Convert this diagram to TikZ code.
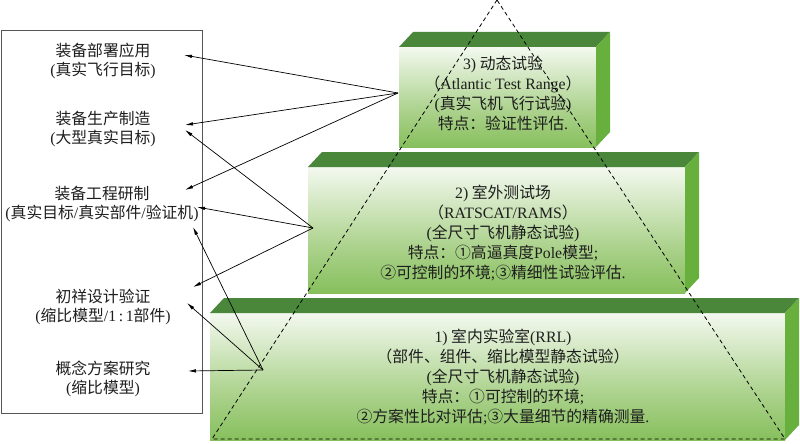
\documentclass[tikz,border=0pt]{standalone}
\usepackage{fontspec}
\setmainfont{Noto Sans CJK SC}
\newfontfamily\tms{Liberation Serif}
\newcommand\tm[1]{{\tms #1}}
\usetikzlibrary{arrows.meta}
\definecolor{frontg}{RGB}{108,178,58}
\definecolor{midg}{RGB}{175,212,145}
\definecolor{topg}{RGB}{74,135,58}
\definecolor{sideg}{RGB}{104,176,62}
\definecolor{boxgray}{RGB}{85,85,85}
\definecolor{txt}{RGB}{30,30,30}
\pgfdeclareverticalshading{boxshade}{100bp}{color(0bp)=(frontg); color(12bp)=(frontg); color(45bp)=(midg); color(80bp)=(white); color(100bp)=(white)}
\newcommand\greenbox[4]{%
  \shade[shading=boxshade] (#1,#2) rectangle (#3,#4);
  \fill[topg] (#1,#2) -- ({#1+14},{#2-15}) -- ({#3+14},{#2-15}) -- (#3,#2) -- cycle;
  \fill[sideg] (#3,#2) -- ({#3+14},{#2-15}) -- ({#3+14},{#4-15}) -- (#3,#4) -- cycle;
}
\begin{document}
\begin{tikzpicture}[x=1pt,y=-1pt,
  boxtxt/.style={align=center, inner sep=0pt, text=txt, font=\fontsize{15.8}{20}\selectfont},
  lefttxt/.style={align=center, inner sep=0pt, text=txt, font=\fontsize{15.8}{19}\selectfont},
  arr/.style={-{Latex[length=8pt,width=3.5pt]}, line width=0.7pt, black},
  tri/.style={dashed, dash pattern=on 4pt off 3pt, line width=0.8pt}]
\useasboundingbox (0,0) rectangle (800,444);
\fill[white] (0,0) rectangle (800,444);
% boxes
\greenbox{210}{313}{785}{440}
\greenbox{308}{167}{685}{293}
\greenbox{399}{47}{596}{147}
% left frame
\node[draw=boxgray, line width=1pt, minimum width=201pt, minimum height=383pt, anchor=north west, inner sep=0pt] (leftbox) at (1,30) {};
% left texts
\node[lefttxt] (t5) at (103,60.5) {装备部署应用\\\tm{(}真实飞行目标\tm{)}};
\node[lefttxt] (t4) at (103,129.5) {装备生产制造\\\tm{(}大型真实目标\tm{)}};
\node[lefttxt] (t3) at (102,204.5) {装备工程研制\\\tm{(}真实目标\tm{/}真实部件\tm{/}验证机\tm{)}};
\node[lefttxt] (t2) at (103,306.5) {初祥设计验证\\\tm{(}缩比模型\tm{/1\,:\,1}部件\tm{)}};
\node[lefttxt] (t1) at (103,379) {概念方案研究\\\tm{(}缩比模型\tm{)}};
% box texts
\node[boxtxt] (b3) at (503,93) {\tm{3)} 动态试验\\（\tm{Atlantic Test Range}）\\\tm{(}真实飞机飞行试验\tm{)}\\特点：验证性评估\tm{.}};
\node[boxtxt] (b2) at (503,233) {\tm{2)} 室外测试场\\（\tm{RATSCAT/RAMS}）\\\tm{(}全尺寸飞机静态试验\tm{)}\\特点：①高逼真度\tm{Pole}模型\tm{;}\\②可控制的环境\tm{;}③精细性试验评估\tm{.}};
\node[boxtxt] (b1) at (503,377) {\tm{1)} 室内实验室\tm{(RRL)}\\（部件、组件、缩比模型静态试验）\\\tm{(}全尺寸飞机静态试验\tm{)}\\特点：①可控制的环境\tm{;}\\②方案性比对评估\tm{;}③大量细节的精确测量\tm{.}};
% dashed triangle
\coordinate (apex) at (497,0);
\coordinate (bl) at (212,439);
\coordinate (br) at (785,439);
\draw[tri] (apex) -- (bl) -- (br) -- cycle;
% arrow sources and targets
\coordinate (s3) at (398,93);
\coordinate (s2) at (313,228);
\coordinate (s1) at (263,370);
\coordinate (a1) at (184,55);
\coordinate (a2) at (185,125);
\coordinate (a3) at (185,190);
\coordinate (a4) at (185,130);
\coordinate (a5) at (197,207);
\coordinate (a6) at (193,287);
\coordinate (a7) at (193,227);
\coordinate (a8) at (187,303);
\coordinate (a9) at (188,371);
\draw[arr] (s3) -- (a1);
\draw[arr] (s3) -- (a2);
\draw[arr] (s3) -- (a3);
\draw[arr] (s2) -- (a4);
\draw[arr] (s2) -- (a5);
\draw[arr] (s2) -- (a6);
\draw[arr] (s1) -- (a7);
\draw[arr] (s1) -- (a8);
\draw[arr] (s1) -- (a9);
\end{tikzpicture}
\end{document}
